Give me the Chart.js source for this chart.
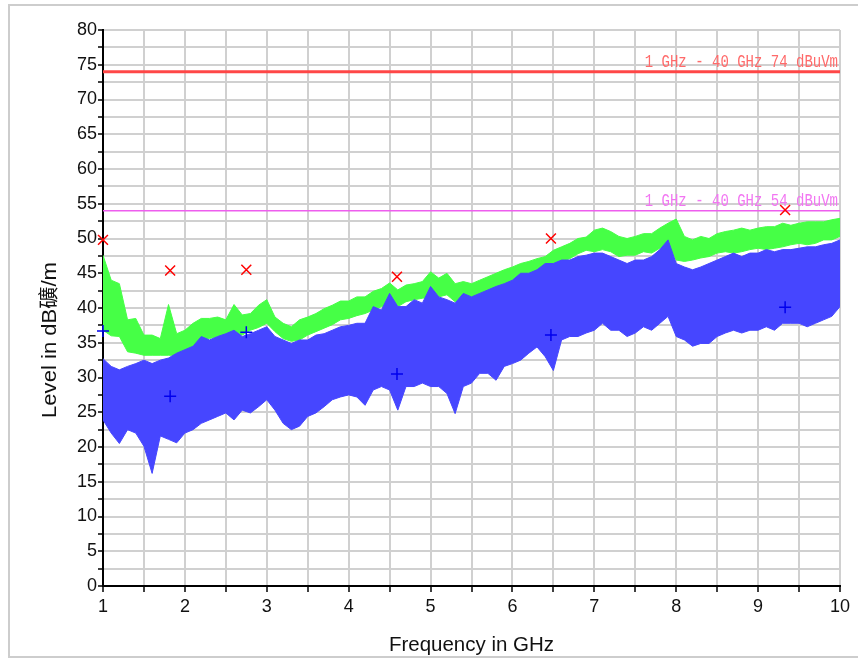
<!DOCTYPE html>
<html>
<head>
<meta charset="utf-8">
<script src="https://cdn.jsdelivr.net/npm/chart.js@4"></script>
<style>
    html, body { margin: 0; padding: 0; background: #fff; }
    #wrap { position: relative; width: 858px; height: 658px; overflow: hidden; }
    #frame { position: absolute; left: 8px; top: 4px; width: 880px; height: 650px; border: 2px solid #cdcdcd; pointer-events: none; }
    canvas { position: absolute; left: 0; top: 0; }
</style>
</head>
<body>
<div id="wrap">
    <canvas id="scan" width="858" height="658"></canvas>
    <div id="frame"></div>
</div>
<script>
// Frequency grid in GHz (one sample per 0.1 GHz)
const freq = [
    1.0, 1.1, 1.2, 1.3, 1.4, 1.5, 1.6, 1.7, 1.8, 1.9,
    2.0, 2.1, 2.2, 2.3, 2.4, 2.5, 2.6, 2.7, 2.8, 2.9,
    3.0, 3.1, 3.2, 3.3, 3.4, 3.5, 3.6, 3.7, 3.8, 3.9,
    4.0, 4.1, 4.2, 4.3, 4.4, 4.5, 4.6, 4.7, 4.8, 4.9,
    5.0, 5.1, 5.2, 5.3, 5.4, 5.5, 5.6, 5.7, 5.8, 5.9,
    6.0, 6.1, 6.2, 6.3, 6.4, 6.5, 6.6, 6.7, 6.8, 6.9,
    7.0, 7.1, 7.2, 7.3, 7.4, 7.5, 7.6, 7.7, 7.8, 7.9,
    8.0, 8.1, 8.2, 8.3, 8.4, 8.5, 8.6, 8.7, 8.8, 8.9,
    9.0, 9.1, 9.2, 9.3, 9.4, 9.5, 9.6, 9.7, 9.8, 9.9, 10.0
];

// Peak trace (green): upper and lower edge of the band, dBµV/m
const peakHigh = [
    47.6, 44.0, 43.5, 38.3, 38.5, 36.1, 36.1, 35.6, 40.5, 36.3,
    36.8, 37.8, 38.5, 38.5, 38.7, 38.3, 40.5, 39.0, 39.2, 40.4,
    41.2, 38.7, 37.8, 37.3, 38.3, 38.7, 39.2, 39.9, 40.4, 41.0,
    41.0, 41.6, 41.6, 42.4, 42.8, 43.6, 42.6, 43.3, 43.5, 43.8,
    45.2, 44.3, 45.0, 43.5, 43.8, 43.5, 44.0, 44.5, 45.0, 45.5,
    45.9, 46.4, 46.7, 47.1, 47.4, 48.3, 48.8, 49.3, 50.0, 50.2,
    51.2, 51.5, 51.0, 50.3, 50.0, 50.3, 50.7, 50.7, 51.5, 52.2,
    52.8, 50.3, 49.8, 50.3, 50.0, 50.7, 51.0, 51.2, 51.5, 51.2,
    51.5, 51.7, 51.7, 52.2, 51.9, 52.2, 52.4, 52.4, 52.4, 52.7, 52.9
];
const peakLow = [
    36.8, 36.0, 35.9, 33.7, 33.5, 33.2, 33.2, 33.2, 33.2, 33.2,
    33.5, 34.5, 35.2, 35.6, 35.9, 35.6, 36.1, 36.1, 36.8, 37.2,
    37.8, 36.6, 35.6, 35.2, 35.4, 36.1, 36.6, 37.1, 37.6, 38.3,
    38.5, 38.9, 39.2, 39.7, 40.2, 40.2, 40.2, 40.9, 41.2, 41.4,
    41.6, 41.6, 41.9, 40.9, 41.2, 41.2, 41.6, 42.1, 42.4, 42.8,
    43.3, 43.5, 44.0, 44.5, 45.0, 46.2, 46.7, 47.1, 47.8, 48.3,
    48.1, 48.4, 48.1, 47.4, 47.6, 47.6, 48.1, 47.9, 48.6, 49.1,
    46.9, 46.7, 46.9, 47.2, 47.4, 47.9, 48.1, 47.9, 48.1, 48.4,
    48.6, 48.4, 48.6, 48.8, 49.1, 49.3, 49.1, 49.3, 49.8, 49.8, 50.3
];

// Average trace (blue): upper and lower edge of the band
const avgHigh = [
    32.7, 31.6, 31.1, 31.6, 32.0, 32.5, 32.0, 32.5, 32.8, 33.5,
    34.0, 34.5, 35.9, 35.4, 35.9, 36.3, 36.8, 35.9, 36.3, 36.8,
    37.3, 35.9, 35.4, 34.9, 35.4, 35.4, 36.1, 36.3, 36.8, 37.3,
    37.5, 37.8, 37.8, 40.2, 39.7, 42.1, 40.2, 40.2, 41.2, 40.7,
    43.1, 41.6, 41.2, 40.7, 42.1, 41.6, 42.1, 42.6, 43.1, 43.5,
    44.0, 45.0, 45.0, 45.5, 46.4, 46.4, 46.9, 46.9, 47.4, 47.6,
    47.9, 47.9, 47.4, 46.9, 46.4, 46.9, 46.9, 47.4, 48.4, 49.8,
    46.4, 45.9, 45.5, 45.9, 46.4, 46.9, 47.4, 47.9, 47.4, 47.9,
    47.9, 48.4, 48.1, 48.4, 48.4, 48.6, 48.8, 48.8, 49.1, 49.3, 49.8
];
const avgLow = [
    23.9, 22.0, 20.5, 22.5, 22.0, 20.1, 16.2, 21.6, 21.1, 20.6,
    22.0, 22.5, 23.4, 23.9, 24.4, 24.9, 23.9, 25.3, 24.9, 25.8,
    26.8, 25.3, 23.4, 22.5, 23.0, 24.4, 24.9, 25.8, 26.8, 27.2,
    27.5, 27.2, 26.0, 28.2, 28.7, 28.2, 25.3, 28.7, 28.7, 29.2,
    28.7, 28.7, 27.7, 24.8, 28.7, 29.2, 30.6, 30.6, 29.6, 31.6,
    32.0, 32.5, 33.5, 34.4, 33.0, 31.0, 35.4, 35.9, 35.9, 36.4,
    36.8, 37.8, 36.8, 36.8, 35.9, 36.4, 37.3, 36.8, 37.8, 38.8,
    35.9, 35.4, 34.5, 34.9, 34.9, 35.9, 36.4, 36.8, 36.4, 36.8,
    36.8, 37.3, 36.8, 37.8, 37.8, 37.8, 37.3, 37.8, 38.3, 38.8, 40.2
];

// Final measurement points
const markerFreq = [1.0, 1.82, 2.75, 4.59, 6.47, 9.33];
const markerPeak = [49.8, 45.4, 45.5, 44.5, 50.0, 54.1];
const markerAvg = [36.7, 27.3, 36.5, 30.5, 36.1, 40.1];

// Limit lines
const limitFreq = [1, 10];
const limitLevels = [74, 54];
const limitLabels = ['1 GHz - 40 GHz 74 dBuVm', '1 GHz - 40 GHz 54 dBuVm'];
const limitColors = ['#ff4747', '#ee5eee'];
const limitTextColors = ['#ff6a6a', '#f276f2'];

const xTicks = [1, 2, 3, 4, 5, 6, 7, 8, 9, 10];
const yAxisTitle = 'Level in dB礦/m';

/**
 * Pairs x values with a series.
 */
function toPoints(xs, ys) {
    return ys.map((y, i) => ({ x: xs[i], y: y }));
}

// Draws the limit captions just above their lines
const limitCaptions = {
    id: 'limitCaptions',
    afterDatasetsDraw(chart) {
        const { ctx, chartArea, scales } = chart;
        ctx.save();
        ctx.font = '14px "Liberation Mono", "DejaVu Sans Mono", monospace';
        ctx.textAlign = 'right';
        ctx.textBaseline = 'alphabetic';
        limitLevels.forEach((level, i) => {
            ctx.save();
            ctx.translate(chartArea.right - 2, scales.y.getPixelForValue(level) - 5);
            ctx.scale(1, 1.25);
            ctx.fillStyle = limitTextColors[i];
            ctx.fillText(limitLabels[i], 0, 0);
            ctx.restore();
        });
        ctx.restore();
    }
};

// Y title sits a little below the middle of the axis in the original
const yTitle = {
    id: 'yTitle',
    afterDraw(chart) {
        const { ctx } = chart;
        ctx.save();
        ctx.translate(50, 340);
        ctx.rotate(-Math.PI / 2);
        ctx.font = '20px "Liberation Sans", Arial, "Noto Sans CJK SC", sans-serif';
        const w = ctx.measureText(yAxisTitle).width;
        ctx.scale(156 / w, 1);
        ctx.fillStyle = '#111';
        ctx.textAlign = 'center';
        ctx.textBaseline = 'middle';
        ctx.fillText(yAxisTitle, 0, 0);
        ctx.restore();
    }
};

const tickFont = { family: '"Liberation Sans", Arial, sans-serif', size: 18 };

new Chart(document.getElementById('scan'), {
    type: 'line',
    data: {
        datasets: [
            {
                label: 'Peak final',
                data: toPoints(markerFreq, markerPeak),
                showLine: false,
                clip: false,
                pointStyle: 'crossRot',
                pointRadius: 7,
                pointBorderColor: '#ff0000',
                pointBorderWidth: 1.5,
                order: 0
            },
            {
                label: 'Average final',
                data: toPoints(markerFreq, markerAvg),
                showLine: false,
                clip: false,
                pointStyle: 'cross',
                pointRadius: 6,
                pointBorderColor: '#0000ee',
                pointBorderWidth: 1.5,
                order: 0
            },
            {
                label: 'Limit 74',
                data: toPoints(limitFreq, [limitLevels[0], limitLevels[0]]),
                borderColor: limitColors[0],
                borderWidth: 3,
                pointRadius: 0,
                order: 1
            },
            {
                label: 'Limit 54',
                data: toPoints(limitFreq, [limitLevels[1], limitLevels[1]]),
                borderColor: limitColors[1],
                borderWidth: 1.5,
                pointRadius: 0,
                order: 1
            },
            {
                label: 'Average high',
                data: toPoints(freq, avgHigh),
                borderColor: '#4646ff',
                borderWidth: 1,
                pointRadius: 0,
                fill: false,
                order: 2
            },
            {
                label: 'Average low',
                data: toPoints(freq, avgLow),
                borderColor: '#4646ff',
                backgroundColor: '#4646ff',
                borderWidth: 1,
                pointRadius: 0,
                fill: '-1',
                order: 2
            },
            {
                label: 'Peak high',
                data: toPoints(freq, peakHigh),
                borderColor: '#46ff46',
                borderWidth: 1,
                pointRadius: 0,
                fill: false,
                order: 3
            },
            {
                label: 'Peak low',
                data: toPoints(freq, peakLow),
                borderColor: '#46ff46',
                backgroundColor: '#46ff46',
                borderWidth: 1,
                pointRadius: 0,
                fill: '-1',
                order: 3
            }
        ]
    },
    options: {
        responsive: false,
        animation: false,
        events: [],
        layout: { padding: { top: 30, right: 18, left: 0, bottom: 0 } },
        plugins: {
            legend: { display: false },
            tooltip: { enabled: false }
        },
        scales: {
            x: {
                type: 'linear',
                min: 1,
                max: 10,
                afterFit(scale) { scale.height = 72; },
                ticks: {
                    stepSize: 0.5,
                    autoSkip: false,
                    maxRotation: 0,
                    padding: 4,
                    color: '#111',
                    font: tickFont,
                    callback: v => xTicks.includes(v) ? String(v) : ''
                },
                grid: { color: '#d0d0d0', lineWidth: 2, tickColor: '#000', tickLength: 6, tickWidth: 1.5 },
                border: { color: '#000', width: 2 },
                title: {
                    display: true,
                    text: 'Frequency in GHz',
                    color: '#111',
                    font: { family: '"Liberation Sans", Arial, sans-serif', size: 20.5 },
                    padding: { top: 8, bottom: 0 }
                }
            },
            y: {
                min: 0,
                max: 80,
                afterFit(scale) { scale.width = 103; },
                ticks: {
                    stepSize: 2.5,
                    autoSkip: false,
                    padding: 1,
                    color: '#111',
                    font: tickFont,
                    callback: v => v % 5 === 0 ? String(v) : ''
                },
                grid: { color: '#d0d0d0', lineWidth: 2, tickColor: '#000', tickLength: 5, tickWidth: 1.5 },
                border: { color: '#000', width: 2 }
            }
        }
    },
    plugins: [limitCaptions, yTitle]
});
</script>
</body>
</html>
